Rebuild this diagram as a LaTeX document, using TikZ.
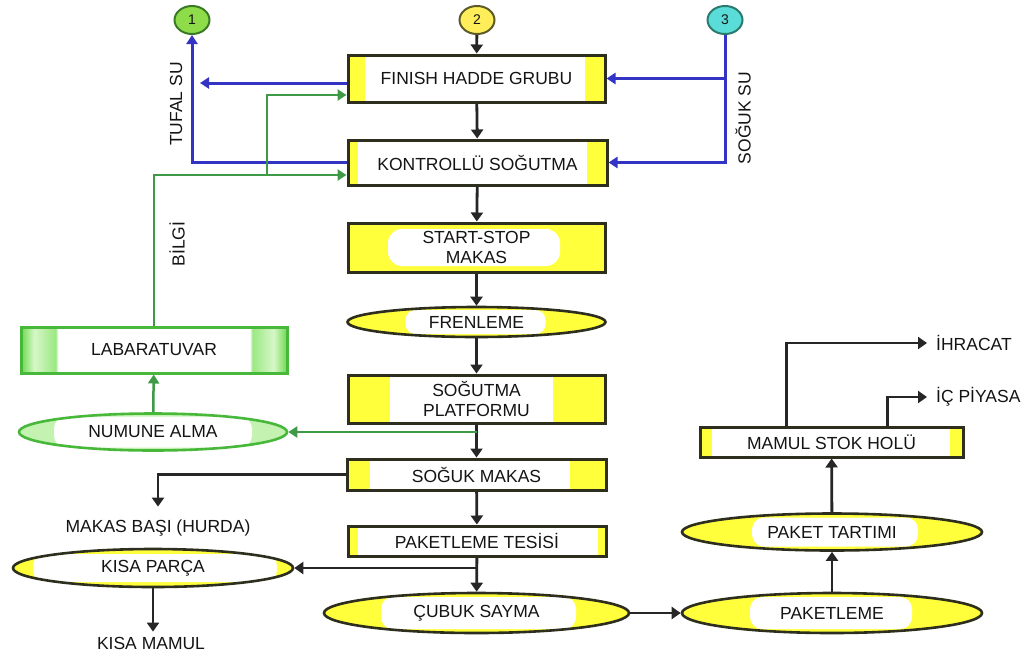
\documentclass[tikz,border=0pt]{standalone}
\usepackage{fontspec}
\setmainfont{Liberation Sans}
\usetikzlibrary{arrows.meta,shapes.geometric,calc}

\definecolor{hl}{HTML}{FFFF3C}
\definecolor{edge}{HTML}{2E2E1E}
\definecolor{ink}{HTML}{262626}
\definecolor{txt}{HTML}{141414}
\definecolor{wblue}{HTML}{3434C4}
\definecolor{ggreen}{HTML}{3E9A46}
\definecolor{lg}{HTML}{6FD94E}
\definecolor{lgl}{HTML}{D6F7C8}
\definecolor{lg2}{HTML}{9BE882}
\definecolor{ngreen}{HTML}{48B83A}
\definecolor{nfill}{HTML}{C4F2B0}
\definecolor{c1fill}{HTML}{8EDC4A}
\definecolor{c1edge}{HTML}{3A7A26}
\definecolor{c2fill}{HTML}{FFEE5A}
\definecolor{c2edge}{HTML}{5A5A2A}
\definecolor{c3fill}{HTML}{5ADCD8}
\definecolor{c3edge}{HTML}{2A7A6E}

% light green band at both ends of the laboratory box
\pgfdeclarehorizontalshading{labshade}{100bp}{color(0bp)=(lg); color(25bp)=(lg);
  color(27.5bp)=(lgl); color(31.5bp)=(lg2); color(32bp)=(white); color(68bp)=(white);
  color(68.5bp)=(lg2); color(72.5bp)=(lgl); color(75bp)=(lg); color(100bp)=(lg)}

\begin{document}
\begin{tikzpicture}[x=1pt,y=-1pt,
  font=\fontsize{17.5}{20}\selectfont, text=txt,
  % white core inside a coloured node: left inset, right inset, vertical inset, corner radius
  core/.style n args={4}{path picture={\fill[white,rounded corners=#4]
      ($(path picture bounding box.south west)+(#1,-#3)$) rectangle
      ($(path picture bounding box.north east)+(-#2,#3)$);}},
  box/.style={draw=edge, line width=3pt, fill=hl, inner sep=0pt, align=center},
  oval/.style={ellipse, draw=edge, line width=2.6pt, fill=hl, inner sep=1pt},
  flow/.style={draw=ink, line width=2.8pt, -{Triangle[length=9pt,width=12pt]}},
  bline/.style={draw=wblue, line width=3pt, -{Triangle[length=9pt,width=11pt]}},
  gline/.style={draw=ggreen, line width=2.5pt, -{Triangle[length=9pt,width=11pt]}},
  numc/.style={ellipse, minimum width=35pt, minimum height=28pt, inner sep=0pt,
    line width=2pt, font=\fontsize{14}{15}\selectfont},
  lbl/.style={inner sep=0pt},
]
\useasboundingbox (0,0) rectangle (1035,659);

% connector circles
\node[numc, fill=c1fill, draw=c1edge] (c1) at (192,20) {1};
\node[numc, fill=c2fill, draw=c2edge] (c2) at (477,20) {2};
\node[numc, fill=c3fill, draw=c3edge] (c3) at (725,20) {3};

% main process line
\node[box, core={17}{20}{1}{0}, minimum width=257, minimum height=47] (fin) at (476.5,78.5) {FINISH HADDE GRUBU};
\node[box, core={10}{20}{1}{0}, minimum width=259, minimum height=45] (kon) at (477.5,162.5) {KONTROLLÜ SOĞUTMA};
\node[box, core={40}{45}{6}{14}, minimum width=257, minimum height=49] (ss) at (476.5,247.5) {START-STOP\\MAKAS};
\node[oval, core={58}{60}{3}{10}, minimum width=258, minimum height=30] (fren) at (476.5,322) {FRENLEME};
\node[box, core={42}{52}{1}{0}, minimum width=257, minimum height=48] (sp) at (476.5,399) {SOĞUTMA\\PLATFORMU};
\node[box, core={23}{36}{1}{0}, minimum width=259, minimum height=31] (sm) at (476.5,474.5) {SOĞUK MAKAS};
\node[box, core={10}{8}{1}{0}, minimum width=258, minimum height=30] (pt) at (477,541) {PAKETLEME TESİSİ};
\node[oval, core={57}{53}{4}{12}, minimum width=305, minimum height=40] (cs) at (476.5,613) {ÇUBUK SAYMA};

% packing and stock
\node[oval, core={68}{70}{4}{12}, minimum width=300, minimum height=40] (pk) at (832,613) {PAKETLEME};
\node[oval, core={70}{64}{4}{12}, minimum width=300, minimum height=37] (ptar) at (832,532) {PAKET TARTIMI};
\node[box, core={12}{13}{1}{0}, minimum width=263, minimum height=30] (mam) at (831.5,442) {MAMUL STOK HOLÜ};
\node[lbl, anchor=west] (ihr) at (936,343) {İHRACAT};
\node[lbl, anchor=west] (ic) at (936,397) {İÇ PİYASA};

% sampling and laboratory
\node[draw=ngreen, line width=3pt, shading=labshade, minimum width=266, minimum height=46, inner sep=0pt] (lab) at (154,350) {LABARATUVAR};
\node[ellipse, draw=ngreen, line width=2.6pt, fill=nfill, core={35}{35}{3}{12}, inner sep=1pt, minimum width=268, minimum height=37] (num) at (153,432) {NUMUNE ALMA};

% scrap and short pieces
\node[lbl] (hur) at (158,528) {MAKAS BAŞI (HURDA)};
\node[oval, core={20}{16}{5}{12}, minimum width=280, minimum height=38] (kp) at (153,568) {KISA PARÇA};
\node[lbl] (kmam) at (151,643) {KISA MAMUL};

% vertical labels
\node[lbl, rotate=90] (ltuf) at (176,104) {TUFAL SU};
\node[lbl, rotate=90] (lbil) at (177,244) {BİLGİ};
\node[lbl, rotate=90] (lsog) at (743,118) {SOĞUK SU};

\coordinate (tuf) at (200,83);
\coordinate (gj) at (267,175);

% main flow
\draw[flow] (c2) -- (fin);
\draw[flow] (fin) -- (kon);
\draw[flow] (kon) -- (ss);
\draw[flow] (ss) -- (fren);
\draw[flow] (fren) -- (sp);
\draw[flow] (sp) -- (sm);
\draw[flow] (sm) -- (pt);
\draw[flow] (pt) -- (cs);
\draw[flow] (cs) -- (pk);
\draw[flow] (pk) -- (ptar);
\draw[flow] (ptar) -- (mam);
\draw[flow] ($(mam.north west)+(88,0)$) |- ([xshift=-9pt]ihr.west);
\draw[flow] ($(mam.north west)+(189,0)$) |- ([xshift=-9pt]ic.west);
\draw[flow] (sm.west) -| ($(hur.north)+(0,-13)$);
\draw[flow] (pt.south |- kp.east) -- (kp.east);
\draw[flow] (kp.south) -- ($(kp.south |- kmam.north)+(0,-5)$);

% scale water and cold water
\draw[bline] (kon.west) -| (c1.south);
\draw[bline] ([yshift=-4.5pt]fin.west) -- (tuf);
\draw[bline] (c3.south) |- (kon.east);
\draw[bline] (c3.south |- fin.east) -- (fin.east);

% sampling and information
\draw[gline] (sp.south |- num.east) -- (num.east);
\draw[gline] (num) -- (lab);
\draw[gline] (lab.north) |- ([yshift=-12.5pt]kon.west);
\draw[gline] (gj) |- ([yshift=-16.5pt]fin.west);
\end{tikzpicture}
\end{document}
